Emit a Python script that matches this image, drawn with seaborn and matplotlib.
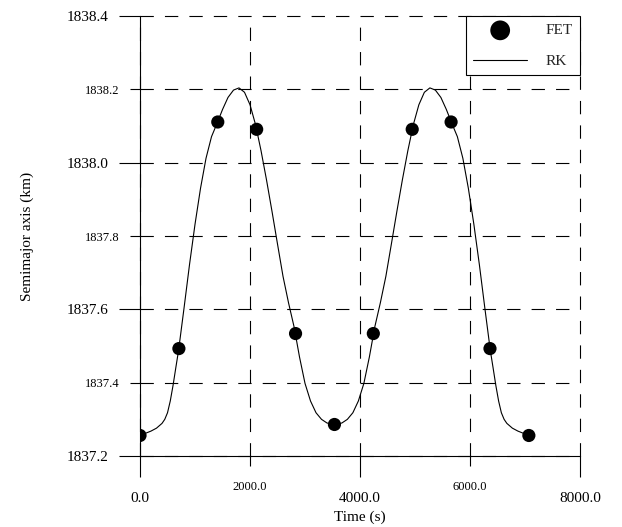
import seaborn as sns
import matplotlib.pyplot as plt
from matplotlib.ticker import FixedLocator, StrMethodFormatter

# FET solution points (s, km)
fet_time = [0, 707, 1414, 2121, 2828, 3535, 4242, 4949, 5656, 6363, 7070]
fet_axis = [1837.256, 1837.493, 1838.111, 1838.091, 1837.534, 1837.286,
            1837.534, 1838.091, 1838.111, 1837.493, 1837.256]

# RK reference curve (s, km)
rk_time = [0, 100, 200, 300, 400, 450, 500, 550, 600, 650, 700, 800, 900,
           1000, 1100, 1200, 1300, 1400, 1500, 1600, 1700, 1800, 1900, 2000,
           2100, 2200, 2300, 2400, 2500, 2600, 2700, 2800, 2900, 3000, 3100,
           3200, 3300, 3400, 3535, 3670, 3770, 3870, 3970, 4070, 4170, 4270,
           4370, 4470, 4570, 4670, 4770, 4870, 4970, 5070, 5170, 5270, 5370,
           5470, 5570, 5670, 5770, 5870, 5970, 6070, 6170, 6270, 6370, 6420,
           6470, 6520, 6570, 6620, 6670, 6770, 6870, 6970, 7070]
rk_axis = [1837.256, 1837.262, 1837.268, 1837.276, 1837.289, 1837.300,
           1837.318, 1837.350, 1837.392, 1837.440, 1837.487, 1837.603,
           1837.722, 1837.832, 1837.930, 1838.012, 1838.071, 1838.107,
           1838.145, 1838.178, 1838.198, 1838.204, 1838.192, 1838.158,
           1838.104, 1838.033, 1837.953, 1837.867, 1837.778, 1837.690,
           1837.618, 1837.553, 1837.470, 1837.398, 1837.350, 1837.318,
           1837.300, 1837.290, 1837.286, 1837.290, 1837.300, 1837.318,
           1837.350, 1837.398, 1837.470, 1837.553, 1837.618, 1837.690,
           1837.778, 1837.867, 1837.953, 1838.033, 1838.104, 1838.158,
           1838.192, 1838.204, 1838.198, 1838.178, 1838.145, 1838.107,
           1838.071, 1838.012, 1837.930, 1837.832, 1837.722, 1837.603,
           1837.487, 1837.440, 1837.392, 1837.350, 1837.318, 1837.300,
           1837.289, 1837.276, 1837.268, 1837.262, 1837.256]

x_major = [0, 4000, 8000]
x_minor = [2000, 6000]
y_major = [1837.2, 1837.6, 1838.0, 1838.4]
y_minor = [1837.4, 1837.8, 1838.2]

sns.set_theme(style="ticks")
plt.rcParams["font.family"] = ["Liberation Serif", "DejaVu Serif"]

fig = plt.figure(figsize=(6.22, 5.27), dpi=100)
ax = fig.add_axes([0.2251, 0.1347, 0.7074, 0.8349])

sns.lineplot(x=rk_time, y=rk_axis, ax=ax, color="black", linewidth=0.8,
             label="RK", sort=False, estimator=None, zorder=3)
sns.scatterplot(x=fet_time, y=fet_axis, ax=ax, color="black", s=90,
                edgecolor="none", label="FET", zorder=4)

ax.set_xlim(0, 8000)
ax.set_ylim(1837.2, 1838.4)
ax.xaxis.set_major_locator(FixedLocator(x_major))
ax.xaxis.set_minor_locator(FixedLocator(x_minor))
ax.yaxis.set_major_locator(FixedLocator(y_major))
ax.yaxis.set_minor_locator(FixedLocator(y_minor))
for axis in (ax.xaxis, ax.yaxis):
    axis.set_major_formatter(StrMethodFormatter("{x:.1f}"))
    axis.set_minor_formatter(StrMethodFormatter("{x:.1f}"))

ax.tick_params(which="major", length=15, width=0.8, labelsize=11, pad=8,
               color="black", labelcolor="black", direction="out")
ax.tick_params(which="minor", length=7, width=0.8, labelsize=9, pad=8,
               color="black", labelcolor="black", direction="out")
ax.tick_params(axis="x", which="both", pad=11)

ax.grid(which="both", color="black", linestyle=(0, (12, 10)), linewidth=0.8)
ax.set_axisbelow(True)
for line in ax.get_xgridlines() + ax.get_ygridlines():
    line.set_clip_on(False)

for side in ["top", "right"]:
    ax.spines[side].set_visible(False)
for side in ["left", "bottom"]:
    ax.spines[side].set_color("black")
    ax.spines[side].set_linewidth(0.8)

ax.set_xlabel("Time (s)", fontsize=11, color="black", labelpad=4)
ax.set_ylabel("Semimajor axis (km)", fontsize=11, color="black", labelpad=23)

handles, labels = ax.get_legend_handles_labels()
order = [labels.index("FET"), labels.index("RK")]
leg = ax.legend([handles[i] for i in order], [labels[i] for i in order],
                loc="upper right", bbox_to_anchor=(1.0, 1.0), borderaxespad=0,
                fontsize=11, frameon=True, fancybox=False, framealpha=1,
                edgecolor="black", markerscale=1.5, handlelength=3.5,
                handletextpad=1.2, labelspacing=1.1, borderpad=0.5)
leg.get_frame().set_linewidth(0.8)

fig.savefig("out.png", dpi=100)
